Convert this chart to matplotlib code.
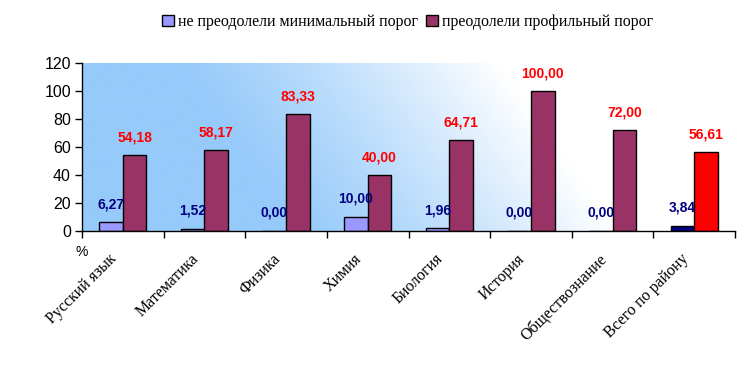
import numpy as np
import matplotlib
matplotlib.use('Agg')
import matplotlib.pyplot as plt
from matplotlib.patches import Patch
from matplotlib.transforms import ScaledTranslation

# ── Data ─────────────────────────────────────────────────────
subjects = ['Русский язык', 'Математика', 'Физика', 'Химия',
            'Биология', 'История', 'Обществознание', 'Всего по району']
not_passed_min = [6.27, 1.52, 0.00, 10.00, 1.96, 0.00, 0.00, 3.84]
passed_profile = [54.18, 58.17, 83.33, 40.00, 64.71, 100.00, 72.00, 56.61]
yticks = [0, 20, 40, 60, 80, 100, 120]
legend_labels = ['не преодолели минимальный порог', 'преодолели профильный порог']

# ── Styles ───────────────────────────────────────────────────
C_MIN   = '#9999FF'
C_PROF  = '#993366'
C_MIN_T = '#000080'
C_PROF_T = '#FF0000'
SANS  = 'Liberation Sans'
SERIF = 'Liberation Serif'

fig = plt.figure(figsize=(7.53, 3.65), dpi=100)
ax = fig.add_axes([82/753, 1 - 231/365, 653/753, 168/365])

# background gradient (blue on the left, fading to white diagonally)
nx, ny = 400, 100
xf = np.linspace(0, 1, nx)[None, :]
yu = np.linspace(1, 0, ny)[:, None]       # 1 at top row
s = xf - 0.18 * (1 - yu)
t = np.clip((s - 0.14) / 0.50, 0, 1) ** 1.2
blue = np.array([150, 202, 250]) / 255
white = np.array([1.0, 1.0, 1.0])
img = blue[None, None, :] * (1 - t[..., None]) + white[None, None, :] * t[..., None]
ax.imshow(img, extent=[-0.5, len(subjects) - 0.5, 0, 120], aspect='auto', zorder=0)

x = np.arange(len(subjects))
w = 0.29
min_colors = [C_MIN] * (len(subjects) - 1) + [C_MIN_T]
prof_colors = [C_PROF] * (len(subjects) - 1) + [C_PROF_T]
ax.bar(x - w/2, not_passed_min, w, color=min_colors, edgecolor='black', linewidth=1, zorder=2)
ax.bar(x + w/2, passed_profile, w, color=prof_colors, edgecolor='black', linewidth=1, zorder=2)

def fmt(v):
    return f'{v:.2f}'.replace('.', ',')

for xi, v in zip(x, not_passed_min):
    ax.text(xi - w/2, v + 13, fmt(v), ha='center', va='center', color=C_MIN_T,
            fontsize=10, fontweight='bold', family=SANS, zorder=3)
for xi, v in zip(x, passed_profile):
    ax.text(xi + w/2, v + 12.5, fmt(v), ha='center', va='center', color=C_PROF_T,
            fontsize=10, fontweight='bold', family=SANS, zorder=3)

ax.set_xlim(-0.5, len(subjects) - 0.5)
ax.set_ylim(0, 120)
ax.set_yticks(yticks)
ax.set_yticklabels([str(v) for v in yticks], family=SANS, fontsize=11.5)
ax.set_xticks(np.arange(len(subjects) + 1) - 0.5)
ax.set_xticklabels([])
ax.tick_params(axis='both', direction='out', length=5, width=1, color='black')
ax.tick_params(axis='y', pad=3)
for sp in ['top', 'right']:
    ax.spines[sp].set_visible(False)
for sp in ['left', 'bottom']:
    ax.spines[sp].set_linewidth(1)

# category labels, rotated
lab_trans = ax.get_xaxis_transform() + ScaledTranslation(-14/100, -20/100, fig.dpi_scale_trans)
for xi, name in zip(x, subjects):
    ax.text(xi, 0, name, transform=lab_trans, rotation=45, rotation_mode='anchor',
            ha='right', va='top', family=SERIF, fontsize=11.5, clip_on=False)

# unit mark under the axis origin
fig.text(82/753, 1 - 252/365, '%', family=SANS, fontsize=10, ha='center', va='center')

handles = [Patch(facecolor=C_MIN, edgecolor='black', linewidth=1),
           Patch(facecolor=C_PROF, edgecolor='black', linewidth=1)]
fig.legend(handles, legend_labels, loc='center', bbox_to_anchor=(408/753, 1 - 22/365),
           ncol=2, frameon=False, prop={'family': SERIF, 'size': 11.5},
           handlelength=0.7, handleheight=0.7, handletextpad=0.3, columnspacing=0.5)

fig.savefig('out.png', dpi=100)
